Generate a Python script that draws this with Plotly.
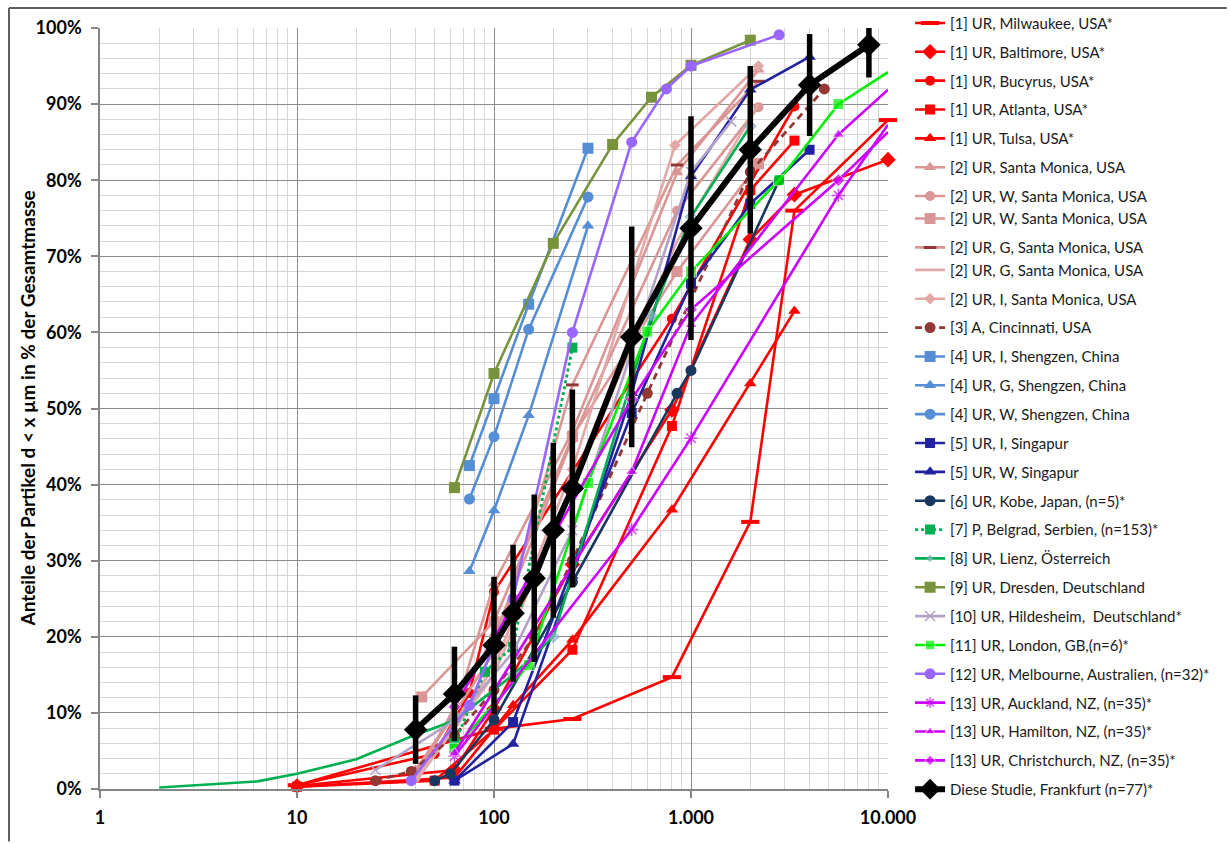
import plotly.graph_objects as go

# Particle size d (µm) and cumulative mass fraction d < x (%)
milwaukee_d = [10, 100, 250, 800, 2000, 3350, 10000]
milwaukee_p = [0.5, 7.9, 9.2, 14.7, 35.1, 76.0, 87.9]
baltimore_d = [10, 63, 100, 250, 800, 2000, 3350, 10000]
baltimore_p = [0.4, 2.5, 10.5, 29.5, 49.8, 72.2, 78.1, 82.7]
bucyrus_d = [10, 50, 75, 100, 800, 3350]
bucyrus_p = [0.5, 4.6, 12.6, 25.9, 61.8, 89.7]
atlanta_d = [10, 50, 100, 250, 800, 2000, 3350]
atlanta_p = [0.3, 1.1, 7.8, 18.3, 47.7, 78.7, 85.2]
tulsa_d = [10, 63, 125, 250, 800, 2000, 3350]
tulsa_p = [0.3, 1.5, 11.0, 19.6, 36.7, 53.3, 62.8]

sm_d = [40, 63, 100, 250, 850, 2200]
sm_p = [2.5, 10.0, 27.0, 47.0, 81.0, 94.5]
sm_w1_d = [40, 100, 250, 850, 2200]
sm_w1_p = [1.5, 20.0, 46.0, 76.0, 89.6]
sm_w2_d = [43, 100, 250, 850, 2200]
sm_w2_p = [12.1, 22.0, 46.3, 68.0, 82.2]
sm_g1_d = [40, 100, 250, 850, 2200]
sm_g1_p = [2.0, 18.0, 53.1, 82.0, 93.0]
sm_g2_d = [40, 100, 250, 850, 2200]
sm_g2_p = [1.0, 15.0, 40.0, 72.0, 90.0]
sm_i_d = [40, 100, 250, 830, 2200]
sm_i_p = [1.5, 16.0, 42.0, 84.6, 95.0]

cincinnati_d = [25, 38, 63, 100, 160, 250, 600, 2000, 4750]
cincinnati_p = [1.1, 2.3, 7.0, 13.0, 20.0, 30.0, 52.0, 81.1, 92.0]

shenzhen_i_d = [75, 100, 150, 300]
shenzhen_i_p = [42.5, 51.3, 63.7, 84.2]
shenzhen_g_d = [75, 100, 150, 300]
shenzhen_g_p = [28.6, 36.6, 49.1, 74.0]
shenzhen_w_d = [75, 100, 150, 300]
shenzhen_w_p = [38.1, 46.3, 60.4, 77.8]

singapur_i_d = [63, 125, 500, 1000, 2000, 4000]
singapur_i_p = [1.1, 8.8, 49.4, 66.4, 76.9, 84.0]
singapur_w_d = [63, 125, 250, 500, 1000, 2000, 4000]
singapur_w_p = [1.1, 5.9, 28.0, 52.0, 80.5, 91.9, 96.2]

kobe_d = [50, 60, 100, 250, 850, 1000, 2800]
kobe_p = [1.1, 2.0, 9.1, 27.2, 52.0, 55.0, 80.0]

belgrad_d = [63, 90, 125, 250]
belgrad_p = [6.0, 15.4, 18.7, 58.0]

lienz_d = [2, 6.3, 10, 20, 38, 63, 125, 200, 630, 1000, 2000]
lienz_p = [0.2, 1.0, 2.0, 3.9, 6.9, 9.0, 15.0, 20.0, 62.2, 75.2, 87.1]
lienz_marked = [0, 0, 0, 0, 0, 1, 1, 1, 1, 1, 1]

dresden_d = [63, 100, 200, 400, 630, 1000, 2000]
dresden_p = [39.6, 54.6, 71.7, 84.7, 90.9, 95.1, 98.4]

hildesheim_d = [25, 63, 125, 250, 1000, 1600]
hildesheim_p = [2.5, 9.0, 18.0, 34.0, 81.1, 87.7]

london_d = [63, 150, 300, 600, 1000, 2800, 5600, 10000]
london_p = [5.3, 16.3, 40.2, 60.1, 68.0, 80.0, 90.0, 94.2]
london_marked = [1, 1, 1, 1, 1, 1, 1, 0]

melbourne_d = [38, 75, 125, 250, 500, 750, 1000, 2800]
melbourne_p = [1.1, 11.0, 25.0, 60.0, 85.0, 92.0, 95.0, 99.1]

auckland_d = [63, 500, 1000, 5600, 10000]
auckland_p = [4.3, 34.1, 46.1, 78.0, 87.3]
hamilton_d = [63, 500, 1000, 5600, 10000]
hamilton_p = [4.7, 41.7, 61.0, 86.0, 91.9]
christchurch_d = [63, 500, 1000, 5600, 10000]
christchurch_p = [10.8, 51.2, 63.0, 80.0, 86.3]
nz_marked = [1, 1, 1, 1, 0]

frankfurt_d = [40, 63, 100, 125, 160, 200, 250, 500, 1000, 2000, 4000, 8000]
frankfurt_p = [7.8, 12.5, 18.9, 23.1, 27.7, 34.0, 39.5, 59.4, 73.7, 84.0, 92.5, 97.8]
frankfurt_err_up = [4.5, 6.2, 9.0, 9.0, 11.0, 11.5, 13.0, 14.5, 14.7, 11.0, 6.7, 2.2]
frankfurt_err_dn = [4.5, 6.2, 9.0, 9.0, 11.0, 11.5, 13.0, 14.5, 14.7, 11.0, 6.7, 4.3]

RED = "#FF0000"
PINK = "#D99694"
PINK_LIGHT = "#E3A8A6"
BROWN = "#953735"
SKY = "#558ED5"
INDIGO = "#2222A0"
NAVY = "#17375E"
GREEN = "#00B050"
OLIVE = "#77933C"
LAVENDER = "#B3A2C7"
LIME = "#00EE00"
VIOLET = "#9966FF"
MAGENTA = "#CC00FF"

fig = go.Figure()


def add(name, d, p, color, symbol=None, size=10, width=2.6, dash="solid",
        mcolor=None, mline=None, sizes=None):
    marker = dict(color=mcolor or color, size=size)
    if symbol is None:
        mode = "lines"
    else:
        mode = "lines+markers"
        marker["symbol"] = symbol
        if sizes is not None:
            marker["size"] = [size if s else 0 for s in sizes]
        if mline is not None:
            marker["line"] = mline
    fig.add_trace(go.Scatter(
        x=d, y=p, name=name, legendgroup=name, mode=mode,
        line=dict(color=color, width=width, dash=dash),
        marker=marker, cliponaxis=False,
    ))


add("[1] UR, Milwaukee, USA*", milwaukee_d, milwaukee_p, RED, "line-ew", 13,
    mline=dict(color=RED, width=4))
add("[1] UR, Baltimore, USA*", baltimore_d, baltimore_p, RED, "diamond", 12)
add("[1] UR, Bucyrus, USA*", bucyrus_d, bucyrus_p, RED, "circle", 10)
add("[1] UR, Atlanta, USA*", atlanta_d, atlanta_p, RED, "square", 10)
add("[1] UR, Tulsa, USA*", tulsa_d, tulsa_p, RED, "triangle-up", 11)
add("[2] UR, Santa Monica, USA", sm_d, sm_p, PINK, "triangle-up", 11)
add("[2] UR, W, Santa Monica, USA", sm_w1_d, sm_w1_p, PINK, "circle", 10)
add("[2] UR, W, Santa Monica, USA", sm_w2_d, sm_w2_p, PINK, "square", 11)
add("[2] UR, G, Santa Monica, USA", sm_g1_d, sm_g1_p, PINK, "line-ew", 9,
    mline=dict(color=BROWN, width=3))
add("[2] UR, G, Santa Monica, USA", sm_g2_d, sm_g2_p, "#E0A9A7")
add("[2] UR, I, Santa Monica, USA", sm_i_d, sm_i_p, PINK_LIGHT, "diamond", 9)
add("[3] A, Cincinnati, USA", cincinnati_d, cincinnati_p, BROWN, "circle", 11,
    width=2.8, dash="7px,5px")
add("[4] UR, I, Shengzen, China", shenzhen_i_d, shenzhen_i_p, SKY, "square", 11)
add("[4] UR, G, Shengzen, China", shenzhen_g_d, shenzhen_g_p, SKY, "triangle-up", 11)
add("[4] UR, W, Shengzen, China", shenzhen_w_d, shenzhen_w_p, SKY, "circle", 11)
add("[5] UR, I, Singapur", singapur_i_d, singapur_i_p, INDIGO, "square", 10)
add("[5] UR, W, Singapur", singapur_w_d, singapur_w_p, INDIGO, "triangle-up", 11)
add("[6] UR, Kobe, Japan, (n=5)*", kobe_d, kobe_p, NAVY, "circle", 11)
add("[7] P, Belgrad, Serbien, (n=153)*", belgrad_d, belgrad_p, GREEN, "square", 10,
    width=2.8, dash="dot")
add("[8] UR, Lienz, Österreich", lienz_d, lienz_p, GREEN, "diamond", 9,
    mcolor="#8EB4C8", mline=dict(color="#5FA8A0", width=1), sizes=lienz_marked)
add("[9] UR, Dresden, Deutschland", dresden_d, dresden_p, OLIVE, "square", 11)
add("[10] UR, Hildesheim,  Deutschland*", hildesheim_d, hildesheim_p, LAVENDER,
    "x-thin-open", 10, mline=dict(color=LAVENDER, width=1.5))
add("[11] UR, London, GB,(n=6)*", london_d, london_p, LIME, "square", 11,
    sizes=london_marked)
add("[12] UR, Melbourne, Australien, (n=32)*", melbourne_d, melbourne_p, VIOLET,
    "circle", 11)
add("[13] UR, Auckland, NZ, (n=35)*", auckland_d, auckland_p, MAGENTA,
    "asterisk-open", 11, mline=dict(color=MAGENTA, width=1.5), sizes=nz_marked)
add("[13] UR, Hamilton, NZ, (n=35)*", hamilton_d, hamilton_p, MAGENTA,
    "triangle-up", 11, sizes=nz_marked)
add("[13] UR, Christchurch, NZ, (n=35)*", christchurch_d, christchurch_p, MAGENTA,
    "diamond", 10, sizes=nz_marked)

fig.add_trace(go.Scatter(
    x=frankfurt_d, y=frankfurt_p, name="Diese Studie, Frankfurt (n=77)*",
    legendgroup="frankfurt", mode="lines+markers",
    line=dict(color="black", width=6),
    marker=dict(symbol="diamond", size=18, color="black"),
    error_y=dict(type="data", array=frankfurt_err_up,
                 arrayminus=frankfurt_err_dn, symmetric=False,
                 color="black", thickness=5.5, width=0),
    cliponaxis=False,
))

minor_x = [m * 10 ** e for e in range(0, 4) for m in range(2, 10)]
tick_font = dict(family="Lato", size=18, color="black", weight="bold")

fig.update_xaxes(
    type="log", range=[0, 4],
    tickmode="array", tickvals=[1, 10, 100, 1000, 10000],
    ticktext=["1", "10", "100", "1.000", "10.000"],
    tickfont=tick_font,
    ticks="outside", ticklen=7, tickcolor="#868686", tickwidth=1.5,
    ticklabelstandoff=5,
    showgrid=True, gridcolor="#8C8C8C", gridwidth=1.3,
    showline=True, linecolor="#868686", linewidth=1.5,
    minor=dict(tickmode="array", tickvals=minor_x, showgrid=True,
               gridcolor="#D6D6D6", gridwidth=1.2, ticks=""),
    zeroline=False,
)
fig.update_yaxes(
    range=[0, 100], tickmode="linear", tick0=0, dtick=10, ticksuffix="%",
    tickfont=tick_font,
    ticks="outside", ticklen=7, tickcolor="#868686", tickwidth=1.5,
    ticklabelstandoff=6,
    showgrid=True, gridcolor="#8C8C8C", gridwidth=1.3,
    showline=True, linecolor="#868686", linewidth=1.5,
    minor=dict(dtick=2, showgrid=True, gridcolor="#D6D6D6", gridwidth=1.2,
               ticks=""),
    zeroline=False,
)

# y-axis title, set close to the tick labels
fig.add_annotation(
    text="Anteile der Partikel d < x µm in % der Gesamtmasse",
    xref="paper", yref="paper", x=-0.0926, y=0.5,
    xanchor="center", yanchor="middle", textangle=-90, showarrow=False,
    font=dict(family="Lato", size=19, color="black", weight="bold"),
)

# outer frame of the chart area: top and left edges
frame = dict(color="#5E5E5E", width=2)
frame_top = 1.0 + 20.0 / 761
frame_left = -91.0 / 788
fig.add_shape(type="line", xref="paper", yref="paper",
              x0=frame_left, x1=1.43, y0=frame_top, y1=frame_top, line=frame)
fig.add_shape(type="line", xref="paper", yref="paper",
              x0=frame_left, x1=frame_left, y0=-0.069, y1=frame_top, line=frame)

fig.update_layout(
    width=1230, height=843,
    margin=dict(l=100, r=342, t=28, b=54, autoexpand=False),
    paper_bgcolor="white", plot_bgcolor="white",
    showlegend=True,
    legend=dict(x=1.028, y=1.028, xanchor="left", yanchor="top",
                font=dict(family="Lato", size=15, color="#1A1A1A"),
                tracegroupgap=6.35, itemwidth=30, maxheight=843,
                bgcolor="rgba(0,0,0,0)"),
    hovermode=False,
)

fig.write_html("out.html", config={"displayModeBar": False})
